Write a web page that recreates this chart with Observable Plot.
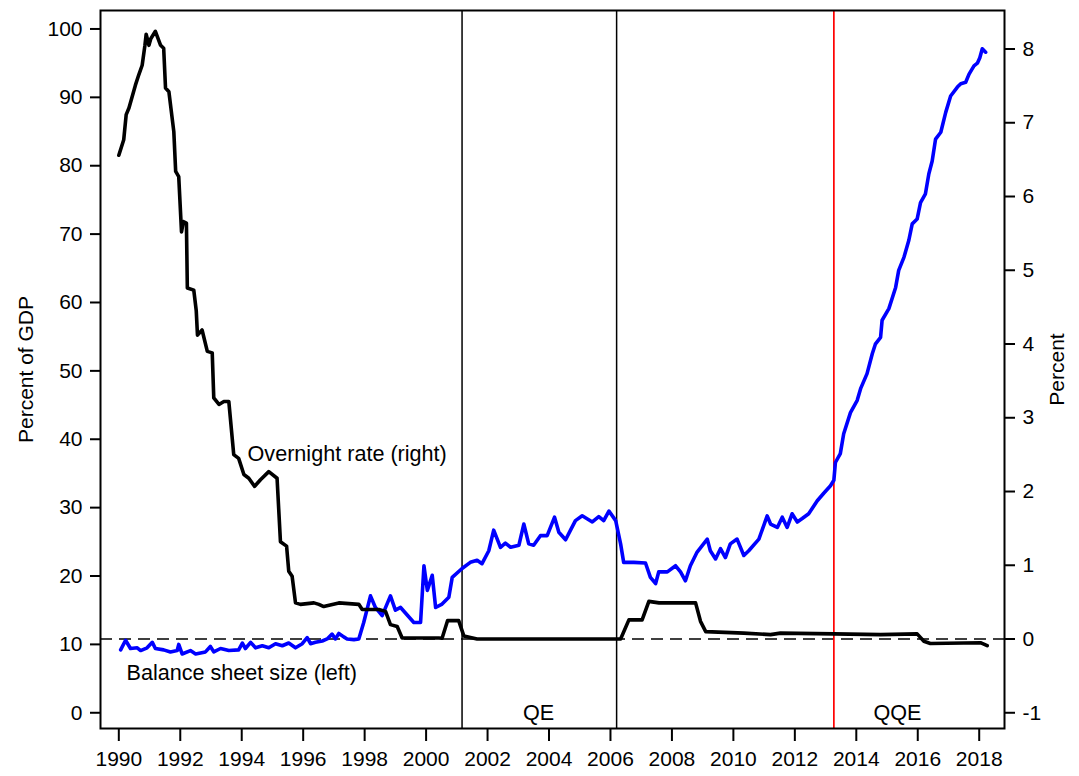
<!DOCTYPE html>
<html>
<head>
<meta charset="utf-8">
<script src="https://cdn.jsdelivr.net/npm/d3@7"></script>
<script src="https://cdn.jsdelivr.net/npm/@observablehq/plot@0.6"></script>
<style>
  html, body { margin: 0; padding: 0; background: #fff; }
  #chart { width: 1079px; height: 776px; }
</style>
</head>
<body>
<div id="chart"></div>
<script>
// Overnight call rate (right axis, percent)
const rateYear = [1990.00,1990.16,1990.24,1990.33,1990.54,1990.65,1990.76,1990.85,1990.89,1990.98,1991.04,1991.19,1991.36,1991.46,1991.52,1991.63,1991.79,1991.85,1991.95,1992.04,1992.10,1992.20,1992.23,1992.44,1992.52,1992.56,1992.71,1992.88,1993.04,1993.09,1993.26,1993.42,1993.58,1993.74,1993.90,1994.07,1994.23,1994.42,1994.61,1994.88,1995.15,1995.26,1995.46,1995.53,1995.64,1995.75,1995.91,1996.35,1996.51,1996.67,1997.16,1997.81,1997.92,1998.46,1998.68,1998.84,1999.06,1999.22,2000.41,2000.52,2000.70,2001.06,2001.23,2001.55,2001.66,2006.33,2006.60,2007.03,2007.25,2007.58,2008.77,2008.93,2009.10,2010.34,2011.21,2011.53,2013.27,2014.79,2015.98,2016.20,2016.41,2018.04,2018.26];
const rateValue = [6.56,6.77,7.11,7.20,7.51,7.65,7.78,8.05,8.20,8.05,8.14,8.24,8.05,8.01,7.47,7.42,6.88,6.34,6.27,5.52,5.66,5.64,4.76,4.73,4.45,4.12,4.19,3.90,3.88,3.27,3.18,3.22,3.22,2.50,2.45,2.23,2.18,2.07,2.16,2.27,2.18,1.32,1.26,0.92,0.85,0.49,0.47,0.49,0.47,0.44,0.49,0.47,0.40,0.40,0.375,0.195,0.17,0.014,0.014,0.01,0.25,0.25,0.04,0.01,0.0,0.0,0.26,0.26,0.51,0.49,0.49,0.24,0.10,0.08,0.06,0.08,0.07,0.06,0.07,-0.03,-0.06,-0.05,-0.09];

// Balance sheet size (left axis, percent of GDP)
const bsYear = [1990.06,1990.22,1990.38,1990.60,1990.71,1990.92,1991.09,1991.19,1991.46,1991.68,1991.90,1991.95,1992.06,1992.33,1992.50,1992.82,1992.98,1993.09,1993.31,1993.58,1993.90,1994.02,1994.12,1994.29,1994.45,1994.67,1994.88,1995.10,1995.32,1995.53,1995.75,1995.97,1996.13,1996.24,1996.40,1996.62,1996.78,1996.94,1997.05,1997.16,1997.32,1997.43,1997.65,1997.81,1997.97,1998.19,1998.35,1998.57,1998.84,1999.00,1999.17,1999.60,1999.82,1999.93,2000.04,2000.20,2000.31,2000.52,2000.74,2000.85,2001.17,2001.44,2001.66,2001.82,2002.04,2002.20,2002.42,2002.58,2002.75,2003.02,2003.18,2003.34,2003.50,2003.72,2003.94,2004.18,2004.32,2004.54,2004.70,2004.86,2005.08,2005.41,2005.62,2005.78,2005.95,2006.17,2006.33,2006.43,2006.76,2007.14,2007.30,2007.47,2007.57,2007.85,2008.12,2008.28,2008.44,2008.60,2008.82,2009.15,2009.25,2009.42,2009.58,2009.74,2009.90,2010.12,2010.34,2010.50,2010.83,2011.10,2011.21,2011.43,2011.59,2011.75,2011.91,2012.08,2012.24,2012.45,2012.73,2012.94,2013.16,2013.27,2013.32,2013.48,2013.59,2013.81,2014.03,2014.14,2014.35,2014.52,2014.62,2014.79,2014.84,2015.06,2015.28,2015.38,2015.55,2015.71,2015.82,2015.98,2016.09,2016.25,2016.36,2016.47,2016.58,2016.75,2016.91,2017.07,2017.29,2017.40,2017.56,2017.67,2017.83,2017.94,2018.02,2018.10,2018.21];
const bsValue = [9.2,10.6,9.4,9.5,9.1,9.5,10.3,9.4,9.2,8.9,9.1,10.0,8.6,9.1,8.6,8.9,9.7,8.9,9.4,9.1,9.2,10.2,9.4,10.3,9.5,9.8,9.5,10.1,9.8,10.2,9.5,10.1,11.0,10.1,10.3,10.5,10.8,11.5,10.8,11.6,11.1,10.8,10.7,10.8,13.2,17.1,15.4,14.2,17.1,15.0,15.4,13.2,13.2,21.5,17.9,20.1,15.4,15.9,16.9,19.8,21.1,22.0,22.3,21.8,23.7,26.7,24.2,24.8,24.2,24.5,27.6,24.7,24.5,25.9,25.9,28.6,26.4,25.3,26.7,28.1,28.8,27.9,28.7,28.1,29.5,28.1,24.7,22.0,22.0,21.9,19.8,18.9,20.6,20.6,21.5,20.6,19.3,21.5,23.5,25.4,23.7,22.5,24.0,22.7,24.7,25.4,23.0,23.7,25.4,28.8,27.6,27.1,28.6,27.1,29.1,27.9,28.4,29.1,31.0,32.1,33.2,34.0,36.6,37.9,40.8,43.9,45.7,47.4,49.6,52.5,53.9,54.9,57.4,59.1,62.2,64.7,66.6,69.1,71.5,72.2,74.6,75.9,78.8,80.7,83.9,84.9,87.8,90.2,91.5,92.0,92.2,93.4,94.6,95.0,95.8,97.1,96.6];

// Axis ticks
const xTicks = d3.range(1990, 2019, 2);
const leftTicks = d3.range(0, 101, 10);
const rightTicks = [-1, 0, 1, 2, 3, 4, 5, 6, 7, 8];

// Event dates
const qeLines = [2001.17, 2006.2];
const qqeLine = [2013.27];

// Annotations
const notes = [
  {year: 1994.19, left: 37.9, text: "Overnight rate (right)"},
  {year: 1990.25, left: 5.8, text: "Balance sheet size (left)"}
];
const periodNotes = [
  {year: 2003.66, left: 0, text: "QE"},
  {year: 2015.34, left: 0, text: "QQE"}
];

// right axis (-1..8) -> left axis units
const k = 97.07 / 9;
const toL = r => (r + 1) * k;

const rate = rateYear.map((y, i) => ({year: y, r: rateValue[i]}));
const bs = bsYear.map((y, i) => ({year: y, v: bsValue[i]}));

const chart = Plot.plot({
  width: 1079,
  height: 776,
  marginLeft: 100,
  marginRight: 75,
  marginTop: 10,
  marginBottom: 48,
  style: {fontFamily: "'Liberation Sans', Arial, sans-serif", fontSize: "21px", color: "black", background: "white"},
  x: {domain: [1989.404, 2018.823]},
  y: {domain: [-2.3, 102.7]},
  marks: [
    Plot.ruleY([toL(0)], {stroke: "black", strokeWidth: 1.6, strokeDasharray: "12,7"}),
    Plot.ruleX(qeLines, {stroke: "black", strokeWidth: 1.5}),
    Plot.ruleX(qqeLine, {stroke: "#ff0000", strokeWidth: 1.7}),
    Plot.line(bs, {x: "year", y: "v", stroke: "#0000ff", strokeWidth: 3.6, strokeLinejoin: "round"}),
    Plot.line(rate, {x: "year", y: d => toL(d.r), stroke: "black", strokeWidth: 3.6, strokeLinejoin: "round"}),
    Plot.text(notes, {x: "year", y: "left", text: "text", textAnchor: "start", fill: "black", fontSize: 21.6}),
    Plot.text(periodNotes, {x: "year", y: "left", text: "text", fill: "black", fontSize: 21.6}),
    Plot.frame({stroke: "black", strokeWidth: 2}),
    Plot.axisX(xTicks, {tickSize: 13, tickPadding: 10, strokeWidth: 2, tickFormat: d => String(d), label: null}),
    Plot.axisY(leftTicks, {anchor: "left", tickSize: 10, tickPadding: 8, strokeWidth: 2, label: "Percent of GDP", labelAnchor: "center", labelOffset: 82, labelArrow: false}),
    Plot.axisY(rightTicks.map(toL), {anchor: "right", tickSize: 10, tickPadding: 8, strokeWidth: 2, tickFormat: v => String(Math.round(v / k - 1)), label: "Percent", labelAnchor: "center", labelOffset: 59, labelArrow: false})
  ]
});
document.getElementById("chart").appendChild(chart);
</script>
</body>
</html>
